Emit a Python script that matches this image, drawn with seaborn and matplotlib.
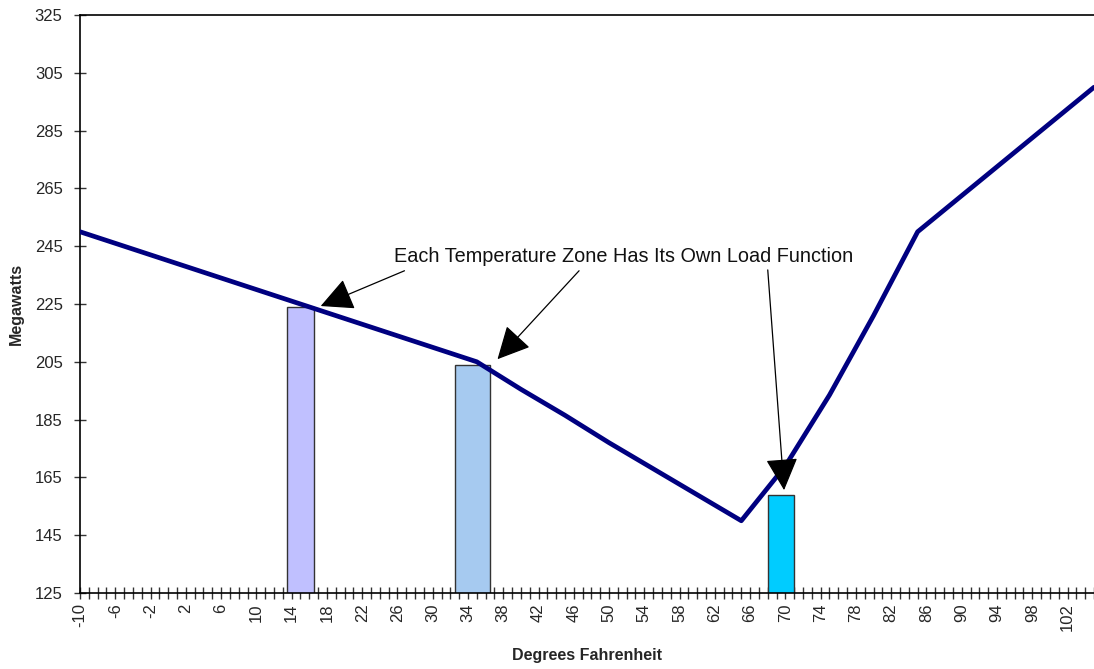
import numpy as np
import pandas as pd
import matplotlib
matplotlib.use("Agg")
import matplotlib.pyplot as plt
import seaborn as sns

# ---- data ----
temps_f = [-10, 0, 10, 20, 30, 35, 40, 45, 50, 55, 60, 65, 70, 75, 80, 85, 90, 95, 100, 105]
load_mw = [250, 240, 230, 220, 210, 205, 195.5, 186.5, 177, 168, 159, 150,
           169, 193.5, 221, 250, 262.5, 275, 287.5, 300]

zone_temps = [15, 34.5, 69.5]
zone_loads = [224, 204, 159]
zone_widths = [3, 4, 3]
zone_colors = ["#C0C0FF", "#A6CAF0", "#00CCFF"]

x_tick_labels = list(range(-10, 103, 4))
y_ticks = list(range(125, 326, 20))

annotation_text = "Each Temperature Zone Has Its Own Load Function"

sns.set_theme(style="white")
plt.rcParams["font.family"] = ["Liberation Sans", "DejaVu Sans"]

fig = plt.figure(figsize=(10.94, 6.69), dpi=100)
ax = fig.add_axes([80 / 1094, 1 - 593 / 669, 1 - 80 / 1094, (593 - 15) / 669])

df = pd.DataFrame({"Degrees Fahrenheit": temps_f, "Megawatts": load_mw})

ax.bar(zone_temps, zone_loads, width=zone_widths, color=zone_colors,
       edgecolor="#333333", linewidth=1.0, zorder=2)

sns.lineplot(data=df, x="Degrees Fahrenheit", y="Megawatts", ax=ax,
             color="#000080", linewidth=3.4, zorder=3)
ax.lines[-1].set_solid_joinstyle("round")

ax.set_xlim(-10, 105)
ax.set_ylim(125, 325)

ax.set_xticks(x_tick_labels)
ax.set_xticklabels([str(v) for v in x_tick_labels], rotation=90, fontsize=12)
ax.set_xticks(np.arange(-10, 106, 1), minor=True)
ax.set_yticks(y_ticks)
ax.set_yticklabels([str(v) for v in y_ticks], fontsize=12)

ax.tick_params(axis="x", which="both", direction="inout", length=9, width=1,
               color="#333333", bottom=True, pad=3)
ax.tick_params(axis="y", which="major", direction="inout", length=9, width=1,
               color="#333333", left=True, pad=8)

for side in ["left", "bottom", "top"]:
    ax.spines[side].set_color("black")
    ax.spines[side].set_linewidth(1.2)
ax.spines["right"].set_visible(False)

ax.set_xlabel("Degrees Fahrenheit", fontsize=11.5, fontweight="bold", labelpad=12)
ax.set_ylabel("Megawatts", fontsize=11.5, fontweight="bold", labelpad=8)

ax.text(25.6, 239.5, annotation_text, fontsize=14.3, ha="left", va="baseline",
        color="#111111", zorder=5)

arrow_props = dict(arrowstyle="-|>,head_length=0.6,head_width=0.3",
                   mutation_scale=34, color="black", lw=0.9,
                   shrinkA=0, shrinkB=0)
for start, tip in [((26.8, 236.5), (17.3, 224.3)),
                   ((46.6, 236.5), (37.35, 205.9)),
                   ((68.0, 236.8), (69.85, 160.6))]:
    ax.annotate("", xy=tip, xytext=start, arrowprops=arrow_props, zorder=6)

ax.grid(False)
fig.savefig("out.png", dpi=100)
